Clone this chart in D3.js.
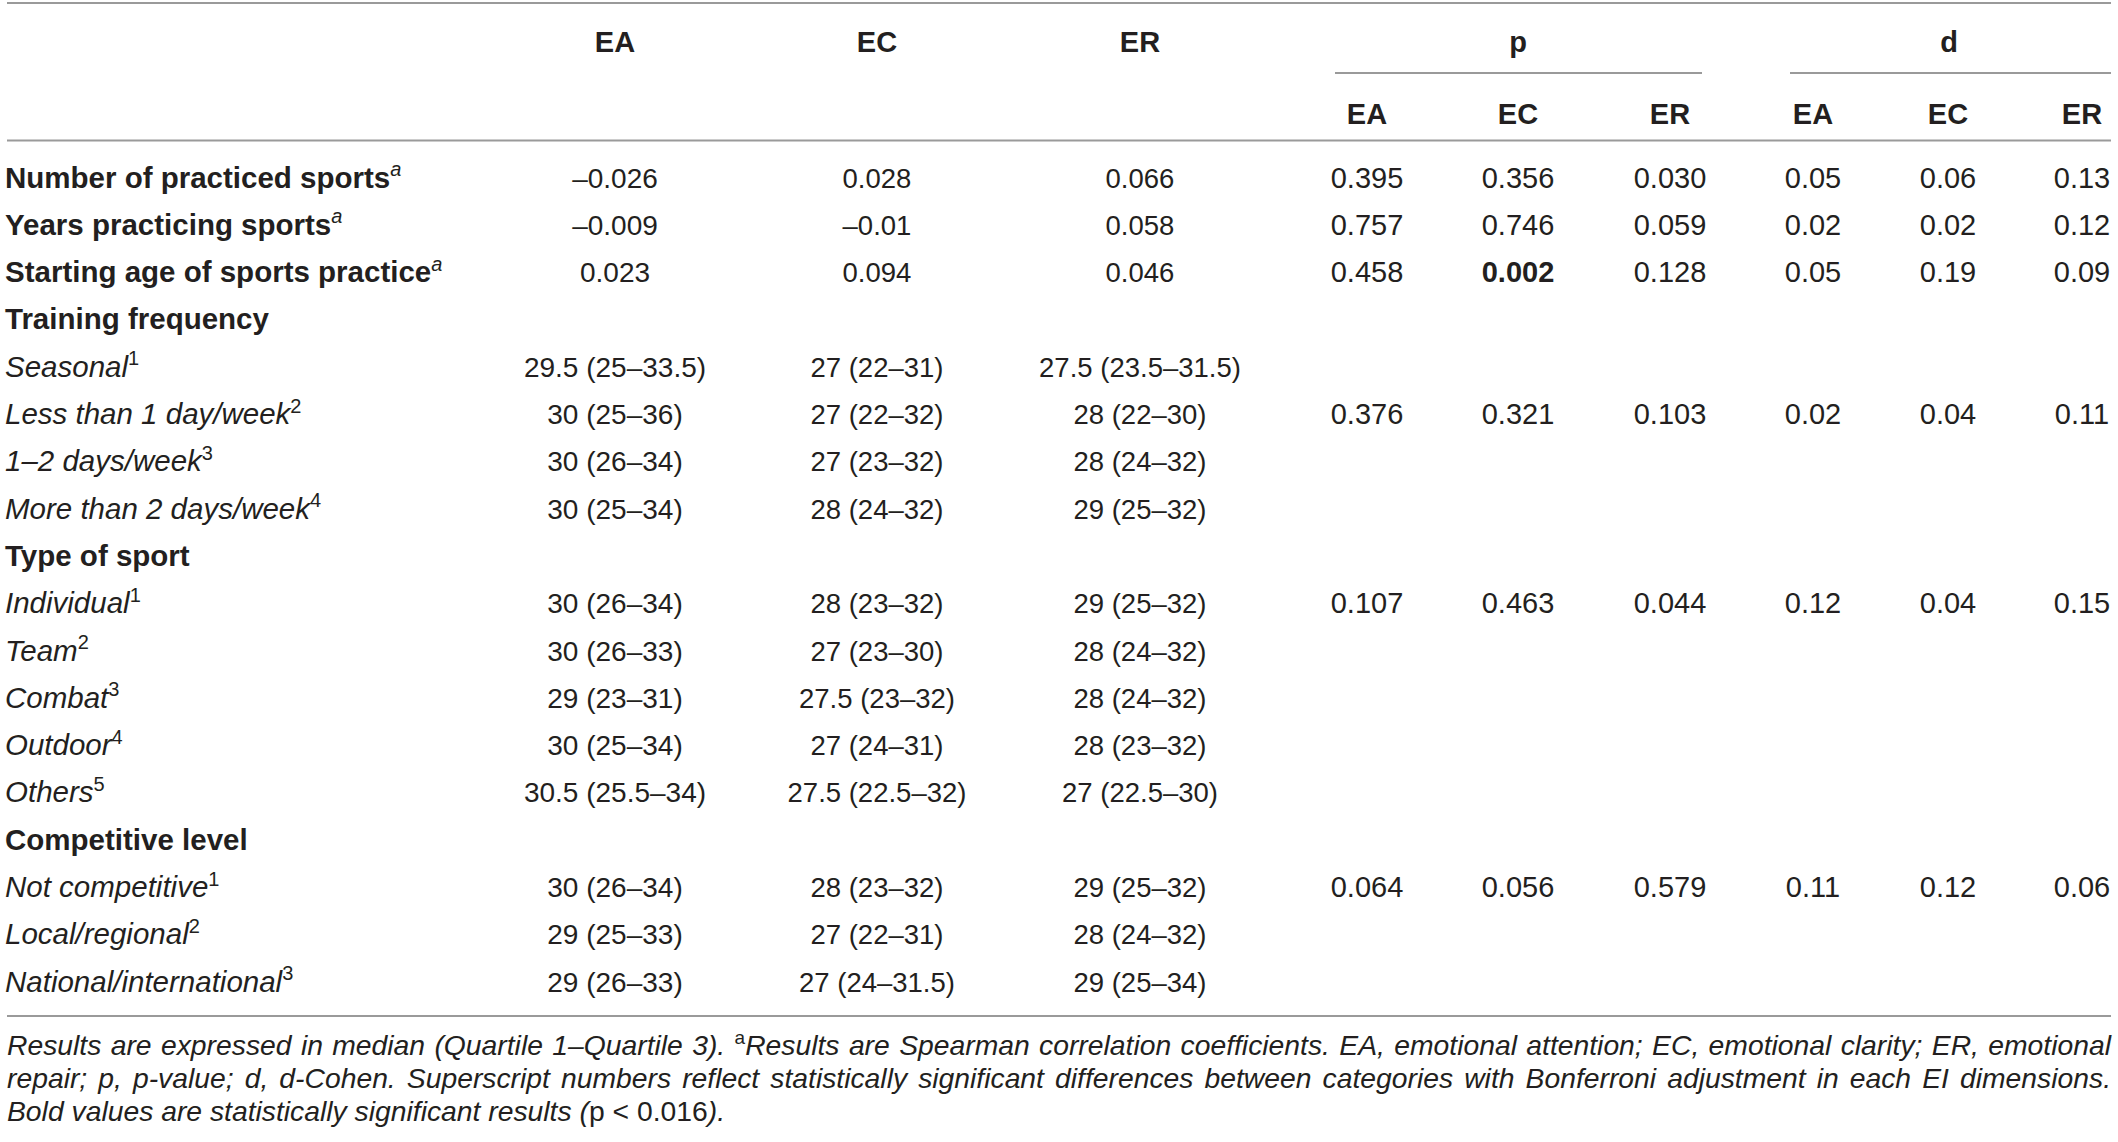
<!DOCTYPE html>
<html><head><meta charset="utf-8">
<script src="https://cdn.jsdelivr.net/npm/d3@7"></script>
<style>body{margin:0;background:#fff} svg{display:block}</style>
</head><body>
<svg id="c" width="2118" height="1142"></svg>
<script>
// ---------- DATA ----------
const groupHeaders = ["EA","EC","ER","p","d"];
const subHeaders = ["EA","EC","ER"];
const rowLabels = ["Number of practiced sports","Years practicing sports","Starting age of sports practice","Training frequency","Seasonal","Less than 1 day/week","1–2 days/week","More than 2 days/week","Type of sport","Individual","Team","Combat","Outdoor","Others","Competitive level","Not competitive","Local/regional","National/international"];
const rowKinds = ["var","var","var","group","cat","cat","cat","cat","group","cat","cat","cat","cat","cat","group","cat","cat","cat"];
const rowSup = ["a","a","a","","1","2","3","4","","1","2","3","4","5","","1","2","3"];
const medEA = ["–0.026","–0.009","0.023","","29.5 (25–33.5)","30 (25–36)","30 (26–34)","30 (25–34)","","30 (26–34)","30 (26–33)","29 (23–31)","30 (25–34)","30.5 (25.5–34)","","30 (26–34)","29 (25–33)","29 (26–33)"];
const medEC = ["0.028","–0.01","0.094","","27 (22–31)","27 (22–32)","27 (23–32)","28 (24–32)","","28 (23–32)","27 (23–30)","27.5 (23–32)","27 (24–31)","27.5 (22.5–32)","","28 (23–32)","27 (22–31)","27 (24–31.5)"];
const medER = ["0.066","0.058","0.046","","27.5 (23.5–31.5)","28 (22–30)","28 (24–32)","29 (25–32)","","29 (25–32)","28 (24–32)","28 (24–32)","28 (23–32)","27 (22.5–30)","","29 (25–32)","28 (24–32)","29 (25–34)"];
const pEA = ["0.395","0.757","0.458","","","0.376","","","","0.107","","","","","","0.064","",""];
const pEC = ["0.356","0.746","0.002","","","0.321","","","","0.463","","","","","","0.056","",""];
const pER = ["0.030","0.059","0.128","","","0.103","","","","0.044","","","","","","0.579","",""];
const dEA = ["0.05","0.02","0.05","","","0.02","","","","0.12","","","","","","0.11","",""];
const dEC = ["0.06","0.02","0.19","","","0.04","","","","0.04","","","","","","0.12","",""];
const dER = ["0.13","0.12","0.09","","","0.11","","","","0.15","","","","","","0.06","",""];
const boldCells = [{row:2, col:"pEC"}];
const footLines = [
  "Results are expressed in median (Quartile 1–Quartile 3). ^aResults are Spearman correlation coefficients. EA, emotional attention; EC, emotional clarity; ER, emotional",
  "repair; p, p-value; d, d-Cohen. Superscript numbers reflect statistically significant differences between categories with Bonferroni adjustment in each EI dimensions."
];
const footLast = [["Bold values are statistically significant results (","i"],["p < 0.016","n"],[").","i"]];

// ---------- LAYOUT ----------
const W = 2118, H = 1142;
const FONT = "'Liberation Sans', Arial, Helvetica, sans-serif";
const INK = "#231f20", RULE = "#9a9a9a";
const left = 7, right = 2111;
const svg = d3.select("#c").attr("font-family", FONT);
svg.append("rect").attr("width", W).attr("height", H).attr("fill", "#fff");

const colKeys = ["mEA","mEC","mER","pEA","pEC","pER","dEA","dEC","dER"];
const colData = {mEA:medEA, mEC:medEC, mER:medER, pEA:pEA, pEC:pEC, pER:pER, dEA:dEA, dEC:dEC, dER:dER};
const colSize = {mEA:28, mEC:27.5, mER:27.5, pEA:29, pEC:29, pER:29, dEA:29, dEC:29, dER:29};
const x = d3.scaleOrdinal().domain(colKeys).range([615, 877, 1140, 1367, 1518, 1670, 1813, 1948, 2082]);
const xGroup = d3.scaleOrdinal().domain(groupHeaders).range([615, 877, 1140, 1518, 1949]);
const spans = {p:[1335, 1702], d:[1790, right]};
const y = d3.scaleLinear().domain([0, rowLabels.length - 1]).range([177, 177 + 47.3 * (rowLabels.length - 1)]);
const base = 10.5;

// rules
const rules = [{y:3, x1:left, x2:right}, {y:140.5, x1:left, x2:right}, {y:1016, x1:left, x2:right},
  {y:73, x1:spans.p[0], x2:spans.p[1]}, {y:73, x1:spans.d[0], x2:spans.d[1]}];
svg.selectAll("line.rule").data(rules).join("line").attr("class","rule")
  .attr("x1", d => d.x1).attr("x2", d => d.x2).attr("y1", d => d.y).attr("y2", d => d.y)
  .attr("stroke", RULE).attr("stroke-width", 2);

// headers
svg.selectAll("text.gh").data(groupHeaders).join("text").attr("class","gh")
  .attr("x", d => xGroup(d)).attr("y", 51.5).attr("text-anchor","middle")
  .attr("font-size", 29).attr("font-weight","bold").attr("fill", INK).text(d => d);
const subCols = ["pEA","pEC","pER","dEA","dEC","dER"];
svg.selectAll("text.sh").data(subCols).join("text").attr("class","sh")
  .attr("x", d => x(d)).attr("y", 124).attr("text-anchor","middle")
  .attr("font-size", 29).attr("font-weight","bold").attr("fill", INK).text((d,i) => subHeaders[i % 3]);

// row labels
const lab = svg.selectAll("text.lab").data(rowLabels).join("text").attr("class","lab")
  .attr("x", left - 2).attr("y", (d,i) => y(i) + base).attr("fill", INK)
  .attr("font-size", (d,i) => rowKinds[i] === "cat" ? 29.5 : 29.5)
  .attr("font-weight", (d,i) => rowKinds[i] === "cat" ? "normal" : "bold")
  .attr("font-style", (d,i) => rowKinds[i] === "cat" ? "italic" : "normal");
lab.each(function(d, i) {
  const t = d3.select(this);
  t.append("tspan").text(d);
  if (rowSup[i]) {
    t.append("tspan").attr("font-size", 20).attr("dy", -11.5)
      .attr("font-style", rowKinds[i] === "var" ? "italic" : "normal")
      .attr("font-weight", "normal").text(rowSup[i]);
  }
});

// cells
const cells = [];
rowLabels.forEach((r, i) => colKeys.forEach(k => { if (colData[k][i]) cells.push({row:i, col:k, v:colData[k][i]}); }));
svg.selectAll("text.cell").data(cells).join("text").attr("class","cell")
  .attr("x", d => x(d.col)).attr("y", d => y(d.row) + base).attr("text-anchor","middle")
  .attr("font-size", d => colSize[d.col]).attr("fill", INK)
  .attr("font-weight", d => boldCells.some(b => b.row === d.row && b.col === d.col) ? "bold" : "normal")
  .text(d => d.v);

// footnote
const FS = 28.3;
function addPieces(t, pieces) {
  let raised = false;
  pieces.forEach(([txt, s]) => {
    const ts = t.append("tspan").text(txt);
    if (s === "sup") { ts.attr("font-size", 19).attr("dy", -11).attr("font-style","normal"); raised = true; }
    else {
      ts.attr("font-style", s === "i" ? "italic" : "normal");
      if (raised) { ts.attr("dy", 11); raised = false; }
    }
  });
}
function tokenPieces(word) {
  if (word.startsWith("^a")) return [["a","sup"],[word.slice(2),"i"]];
  return [[word,"i"]];
}
function measure(pieces) {
  const t = svg.append("text").attr("font-size", FS);
  addPieces(t, pieces);
  const w = t.node().getComputedTextLength();
  t.remove();
  return w;
}
const footY = d3.scaleLinear().domain([0, 2]).range([1055, 1121]);
footLines.forEach((line, li) => {
  const words = line.split(" ").map(tokenPieces);
  const widths = words.map(measure);
  const gap = (right - left - d3.sum(widths)) / (words.length - 1);
  let cx = left;
  const g = svg.append("g").attr("class","foot");
  words.forEach((p, wi) => {
    const t = g.append("text").attr("x", cx).attr("y", footY(li)).attr("font-size", FS).attr("fill", INK);
    addPieces(t, p);
    cx += widths[wi] + gap;
  });
});
const last = svg.append("text").attr("x", left).attr("y", footY(2)).attr("font-size", FS).attr("fill", INK);
addPieces(last, footLast);
</script>
</body></html>
